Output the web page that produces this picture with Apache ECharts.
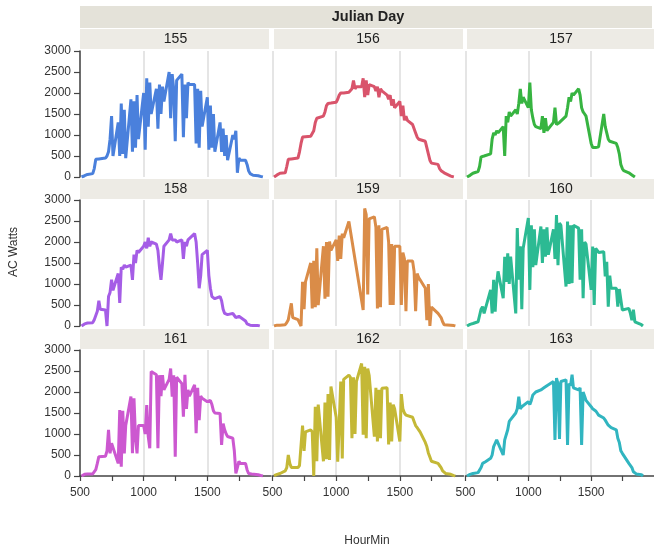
<!DOCTYPE html>
<html>
<head>
<meta charset="utf-8">
<script src="https://cdn.jsdelivr.net/npm/echarts@6/dist/echarts.min.js"></script>
<style>
  html, body { margin: 0; padding: 0; background: #ffffff; }
  #chart { width: 654px; height: 549px; }
</style>
</head>
<body>
<div id="chart"></div>
<script>
// Sample times (HHMM) shared by every day
const hourMin = [
  500, 512, 524, 536, 548, 559,
  600, 612, 624, 636, 648, 659,
  700, 712, 724, 736, 748, 759,
  800, 812, 824, 836, 848, 859,
  900, 912, 924, 936, 948, 959,
  1000, 1012, 1024, 1036, 1048, 1059,
  1100, 1112, 1124, 1136, 1148, 1159,
  1200, 1212, 1224, 1236, 1248, 1259,
  1300, 1312, 1324, 1336, 1348, 1359,
  1400, 1412, 1424, 1436, 1448, 1459,
  1500, 1512, 1524, 1536, 1548, 1559,
  1600, 1612, 1624, 1636, 1648, 1659,
  1700, 1712, 1724, 1736, 1748, 1759,
  1800, 1812, 1824, 1836, 1848, 1859,
  1900, 1912, 1924, 1936
];

// AC output (W) per Julian day, one row per hour
const day155 = [
  null, 0, 20, 30, 50, 60,
  80, 200, 420, 430, 430, 440,
  450, 500, 600, 900, 1450, 500,
  1300, 500, 1750, 550, 1600, 450,
  1850, 600, 1800, 700, 1950, 900,
  2000, 650, 2350, 1200, 2250, 1500,
  2100, 1150, 2200, 1500, 2150, 1800,
  2500, 1400, 2450, 2100, 850, 2300,
  2450, 950, 2200, 1400, 2250, 2200,
  2200, 800, 2100, 700, 2050, 1200,
  1900, 650, 1700, 700, 1500, 600,
  1300, 600, 1150, 500, 1000, 400,
  1000, 900, 1100, 100, 450, 400,
  400, 300, 150, 80, 60, 40,
  30, 20, 10, 0
];
const day156 = [
  null, 0, 20, 50, 80, 90,
  100, 250, 420, 430, 430, 450,
  450, 600, 800, 950, 960, 960,
  970, 1000, 1100, 1300, 1400, 1420,
  1450, 1550, 1700, 1750, 1750, 1760,
  1780, 1850, 1950, 2000, 2000, 2000,
  2020, 2050, 2100, 2300, 2100, 2150,
  2150, 2350, 1900, 2300, 1950, 2200,
  2150, 2050, 2150, 1900, 2100, 2050,
  1950, 1850, 1950, 1700, 1850, 1650,
  1800, 1450, 1700, 1350, 1450, 1350,
  1250, 1150, 1050, 950, 900, 880,
  850, 700, 550, 400, 330, 320,
  300, 200, 150, 110, 100, 60,
  20, 5, 0, null
];
const day157 = [
  null, 0, 20, 40, 60, 90,
  130, 250, 480, 500, 500, 500,
  550, 900, 1050, 1000, 1100, 1050,
  1200, 500, 1450, 1300, 1550, 1450,
  1600, 1500, 1750, 2100, 1750, 1900,
  1650, 2250, 1600, 1400, 1250, 1200,
  1150, 1450, 1050, 1400, 1100, 1150,
  1300, 1650, 1250, 1250, 1300, 1300,
  1450, 1650, 1900, 1800, 2000, 1950,
  2100, 1950, 1650, 1550, 1500, 1450,
  800, 700, 720, 700, 730, 720,
  1500, 1200, 1050, 900, 850, 830,
  800, 700, 550, 300, 200, 150,
  100, 80, 50, 20, 0, null,
  null, null, null, null
];
const day158 = [
  null, 0, 20, 50, 65, 70,
  80, 150, 250, 350, 600, 400,
  380, 0, 700, 800, 1100, 850,
  1250, 550, 1400, 1350, 1450, 1400,
  1450, 1100, 1700, 1500, 1800, 1750,
  1900, 2000, 1850, 2100, 1900, 2000,
  1950, 1800, 1400, 1100, 1500, 1900,
  2050, 2200, 2050, 2050, 2050, 2000,
  2050, 1600, 2000, 1900, 2050, 2050,
  2200, 2000, 1500, 900, 1200, 1700,
  1800, 1200, 900, 700, 680, 650,
  700, 600, 400, 300, 280, 270,
  300, 250, 200, 220, 230, 200,
  120, 50, 30, 20, 20, 10,
  10, 0, null, null
];
const day159 = [
  null, 0, 10, 20, 20, 20,
  30, 80, 150, 180, 540, 200,
  150, 140, 0, 1050, 400, 1050,
  1500, 420, 1550, 450, 1850, 500,
  1900, 650, 2000, 700, 2010, 1800,
  2050, 1550, 2150, 1600, 2200, 2100,
  2490, null, null, null, null, null,
  null, 380, 2800, 2650, 750, 2550,
  2600, 2350, 420, 2400, 450, 2300,
  2350, 2000, 500, 1950, 500, 1900,
  1900, 500, 1750, 1600, 350, 1550,
  1550, 1300, 350, 1250, 1150, 1100,
  900, 140, 1000, 0, 450, 460,
  300, 260, 200, 100, 30, 20,
  20, 20, 10, 0
];
const day160 = [
  null, 0, 20, 40, 60, 60,
  100, 250, 400, 460, 300, 300,
  860, 300, 1100, 340, 1000, 1300,
  660, 1650, 1050, 1730, 1000, 1650,
  300, 2330, 1100, 1900, 400, 1850,
  2570, 860, 2400, 1400, 2300, 1450,
  2370, 1500, 2300, 1650, 2350, 1700,
  2300, 1600, 2640, 1450, 2450, 2400,
  940, 2490, 1000, 2400, 1020, 2400,
  2330, 1100, 2300, 660, 2000, 1950,
  860, 1890, 500, 1850, 1800, 1750,
  1770, 1180, 1530, 460, 1200, 900,
  900, 460, 880, 900, 380, 400,
  420, 300, 140, 390, 100, 80,
  30, 0, null, null
];
const day161 = [
  null, 0, 20, 40, 50, 50,
  50, 60, 150, 300, 460, 460,
  470, 600, 1100, 540, 780, 800,
  300, 1570, 220, 1550, 540, 1200,
  1890, 540, 1850, 900, 540, 1200,
  1200, 1000, 1690, 940, 660, 2490,
  2410, 660, 2400, 1900, 2400, 2050,
  2300, 2560, 1890, 2400, 460, 2350,
  2200, 1410, 2410, 1600, 2050, 1900,
  2170, 1020, 2100, 1330, 1900, 1850,
  1770, 1750, 1800, 1700, 1550, 1500,
  1490, 740, 1250, 1100, 1000, 940,
  900, 600, 60, 200, 350, 300,
  300, 150, 60, 60, 50, 40,
  30, 20, 10, 0
];
const day162 = [
  null, 10, 20, 40, 50, 60,
  120, 200, 500, 300, 200, 180,
  200, 250, 250, 1200, 600, 1050,
  1100, 1050, 0, 1650, 350, 1700,
  350, 1750, 400, 1950, 380, 2130,
  1400, 340, 1250, 2250, 420, 2300,
  2400, 2350, 900, 2350, 1000, 2250,
  2680, 980, 2600, 900, 2560, 2400,
  940, 2100, 820, 2050, 900, 2090,
  2100, 750, 1750, 820, 1700, 1600,
  820, 1950, 1600, 1500, 1450, 1420,
  1400, 1300, 1200, 1150, 1100, 1050,
  800, 700, 550, 450, 350, 340,
  300, 250, 200, 120, 80, 60,
  40, 20, 10, 0
];
const day163 = [
  null, 0, 20, 40, 50, 60,
  80, 120, 200, 300, 340, 340,
  420, 500, 700, 780, 860, 860,
  500, 860, 900, 1100, 1300, 1330,
  1500, 1600, 1890, 1600, 1650, 1650,
  1770, 1700, 1800, 1930, 1950, 2000,
  2050, 2050, 2100, 2090, 2150, 2170,
  2250, 860, 2330, 2200, 880, 2250,
  2290, 740, 2200, 2150, 2410, 2100,
  2050, 2100, 740, 2000, 1900, 1800,
  1650, 1600, 1570, 1550, 1500, 1450,
  1380, 1330, 1270, 1210, 1170, 1150,
  1100, 900, 800, 600, 540, 500,
  300, 260, 200, 100, 60, 50,
  30, 0, null, null
];

const julianDays = ['155', '156', '157', '158', '159', '160', '161', '162', '163'];
const dayValues = [day155, day156, day157, day158, day159, day160, day161, day162, day163];

const xTicks = [500, 750, 1000, 1250, 1500, 1750];
const xTickLabels = [500, 1000, 1500];
const xGridLines = [500, 1000, 1500];
const yTicks = [0, 500, 1000, 1500, 2000, 2500, 3000];

const dayColors = ['#4a80dc', '#d9546b', '#37b441', '#a55de6', '#da8c48',
                   '#2cba93', '#cc58d0', '#c4b836', '#31b5c0'];

// facet layout (pixels)
const colLeft = [80, 272.5, 465.5];
const panelW = 191;
const stripTop = [29, 179, 329];
const stripH = 20;
const plotTop = [51, 200, 350];
const plotH = 126;

const FONT = '"Liberation Sans", Arial, Helvetica, sans-serif';
const AXIS_COLOR = '#444';
const TEXT_COLOR = '#333';
const plain = v => String(v);

const grids = [], xAxes = [], yAxes = [], series = [], graphics = [];

// overall facet header
graphics.push({
  type: 'rect', silent: true,
  shape: { x: 80, y: 6, width: 572, height: 22 },
  style: { fill: '#e4e2d9' }
});
graphics.push({
  type: 'text', silent: true,
  x: 368, y: 17,
  style: { text: 'Julian Day', font: 'bold 14.5px ' + FONT, fill: '#222',
           align: 'center', verticalAlign: 'middle' }
});

julianDays.forEach((day, i) => {
  const r = Math.floor(i / 3), c = i % 3;
  const left = colLeft[c];
  grids.push({ left: left, top: plotTop[r], width: panelW, height: plotH, containLabel: false });

  const bottomRow = r === 2, leftCol = c === 0;
  // visible HourMin axis (ticks + labels on the bottom row only)
  xAxes.push({
    gridIndex: i, type: 'value', position: 'bottom', min: 500, max: 2000, interval: 500,
    axisLine: { show: bottomRow, onZero: false, lineStyle: { color: AXIS_COLOR, width: 1.5 } },
    axisTick: { show: bottomRow, customValues: xTicks, length: 5,
                lineStyle: { color: AXIS_COLOR, width: 1.2 } },
    axisLabel: { show: bottomRow, customValues: xTickLabels, formatter: plain,
                 color: TEXT_COLOR, fontSize: 12, fontFamily: FONT, margin: 11 },
    splitLine: { show: false }
  });
  // companion axis that only carries the vertical grid lines
  xAxes.push({
    gridIndex: i, type: 'value', position: 'top', min: 500, max: 2000,
    axisLine: { show: false }, axisLabel: { show: false },
    axisTick: { show: false, customValues: xGridLines },
    splitLine: { show: true, lineStyle: { color: '#dddddd', width: 1.5 } }
  });
  yAxes.push({
    gridIndex: i, type: 'value', min: 0, max: 3000, interval: 500,
    axisLine: { show: leftCol, lineStyle: { color: AXIS_COLOR, width: 1.5 } },
    axisTick: { show: leftCol, customValues: yTicks, length: 6,
                lineStyle: { color: AXIS_COLOR, width: 1.2 } },
    axisLabel: { show: leftCol, customValues: yTicks, formatter: plain,
                 color: TEXT_COLOR, fontSize: 12, fontFamily: FONT, margin: 9 },
    splitLine: { show: false }
  });
  series.push({
    type: 'line', name: day, xAxisIndex: 2 * i, yAxisIndex: i,
    data: hourMin.map((t, k) => [t, dayValues[i][k]]),
    showSymbol: false, symbol: 'none', connectNulls: true,
    lineStyle: { color: dayColors[i], width: 3 },
    itemStyle: { color: dayColors[i] },
    animation: false, silent: true
  });

  // panel header strip
  graphics.push({
    type: 'rect', silent: true,
    shape: { x: left + (c > 0 ? 1.5 : 0), y: stripTop[r], width: panelW - 2, height: stripH },
    style: { fill: '#edebe5' }
  });
  graphics.push({
    type: 'text', silent: true,
    x: left + panelW / 2, y: stripTop[r] + stripH / 2 + 0.5,
    style: { text: day, font: '14px ' + FONT, fill: '#222',
             align: 'center', verticalAlign: 'middle' }
  });
});

// axis titles
graphics.push({
  type: 'text', silent: true,
  x: 14, y: 252, rotation: Math.PI / 2,
  style: { text: 'AC Watts', font: '12px ' + FONT, fill: TEXT_COLOR,
           align: 'center', verticalAlign: 'middle' }
});
graphics.push({
  type: 'text', silent: true,
  x: 367, y: 541,
  style: { text: 'HourMin', font: '12px ' + FONT, fill: TEXT_COLOR,
           align: 'center', verticalAlign: 'middle' }
});

const chart = echarts.init(document.getElementById('chart'), null, { renderer: 'canvas' });
chart.setOption({
  animation: false,
  backgroundColor: '#ffffff',
  grid: grids,
  xAxis: xAxes,
  yAxis: yAxes,
  series: series,
  graphic: graphics
});
</script>
</body>
</html>
